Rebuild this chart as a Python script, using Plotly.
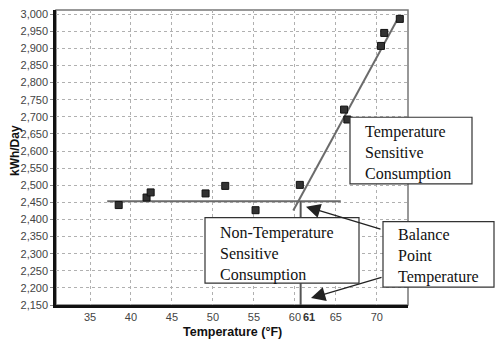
import plotly.graph_objects as go

# ---- data ----
temps = [38.5, 41.9, 42.4, 49.1, 51.5, 55.2, 60.6, 66.0, 66.4, 70.5, 70.9, 72.8]
kwh = [2442, 2464, 2479, 2476, 2498, 2427, 2501, 2721, 2692, 2907, 2945, 2986]

flat_x = [37.1, 65.6]
flat_y = [2453, 2453]
slope_x = [59.8, 72.7]
slope_y = [2426, 2993]
balance_temp = 60.7
balance_kwh = 2453
y_min = 2150

x_ticks = [35, 40, 45, 50, 55, 60, 65, 70]
y_ticks = list(range(2150, 3001, 50))
y_tick_text = [f"{v:,}" for v in y_ticks]

# ---- figure ----
fig = go.Figure()
fig.add_trace(go.Scatter(x=flat_x, y=flat_y, mode="lines",
                         line=dict(color="#6b6b6b", width=2), hoverinfo="skip"))
fig.add_trace(go.Scatter(x=slope_x, y=slope_y, mode="lines",
                         line=dict(color="#6b6b6b", width=2), hoverinfo="skip"))
fig.add_trace(go.Scatter(x=[balance_temp, balance_temp], y=[y_min, balance_kwh], mode="lines",
                         line=dict(color="#555555", width=2), hoverinfo="skip"))
fig.add_trace(go.Scatter(x=temps, y=kwh, mode="markers",
                         marker=dict(symbol="square", size=7, color="#333333",
                                     line=dict(color="#111111", width=1))))

W, H, L, T = 352, 297, 56, 8


def px(xp):
    return (xp - L) / W


def py(yp):
    return (T + H - yp) / H


shapes = [
    dict(type="rect", xref="paper", yref="paper", x0=0, x1=1, y0=0, y1=1,
         line=dict(color="#777777", width=1.5), layer="below"),
]
boxes = [
    (350, 472, 116, 183),
    (205, 359, 217, 283),
    (383, 494, 221, 287),
]
for x0, x1, y0, y1 in boxes:
    shapes.append(dict(type="rect", xref="paper", yref="paper",
                       x0=px(x0), x1=px(x1), y0=py(y1), y1=py(y0),
                       line=dict(color="#333333", width=1.2), fillcolor="white",
                       layer="above"))

annotations = []
box_texts = [
    (363, 152, "Temperature<br>Sensitive<br>Consumption"),
    (218, 253.5, "Non-Temperature<br>Sensitive<br>Consumption"),
    (396, 256, "Balance<br>Point<br>Temperature"),
]
for xl, yc, t in box_texts:
    annotations.append(dict(text=t, xref="paper", yref="paper", x=px(xl), y=py(yc),
                            xanchor="left", yanchor="middle", align="left", showarrow=False,
                            font=dict(family="Liberation Serif", size=16, color="#111111")))

for head, tail in [((306, 206), (382, 229)), ((311, 298), (383, 277))]:
    annotations.append(dict(text="", xref="paper", yref="paper", x=px(head[0]), y=py(head[1]),
                            ax=tail[0] - head[0], ay=tail[1] - head[1],
                            axref="pixel", ayref="pixel",
                            showarrow=True, arrowhead=2, arrowsize=2.2, arrowwidth=1.3,
                            arrowcolor="#222222"))

annotations.append(dict(text="<b>61</b>", xref="x", yref="paper", x=balance_temp, y=py(317),
                        xshift=8, showarrow=False, yanchor="middle",
                        font=dict(family="Liberation Sans", size=11, color="#333333")))
annotations.append(dict(text="<b>Temperature (°F)</b>", xref="paper", yref="paper",
                        x=0.5, y=py(332), showarrow=False, yanchor="middle",
                        font=dict(family="Liberation Sans", size=12.5, color="#111111")))
annotations.append(dict(text="<b>kWh/Day</b>", xref="paper", yref="paper", textangle=-90,
                        x=px(15), y=py(150), showarrow=False, xanchor="center", yanchor="middle",
                        font=dict(family="Liberation Sans", size=12, color="#111111")))

fig.update_layout(
    width=498, height=343,
    margin=dict(l=L, r=498 - L - W, t=T, b=343 - T - H),
    paper_bgcolor="white", plot_bgcolor="white",
    showlegend=False,
    shapes=shapes, annotations=annotations,
    font=dict(family="Liberation Sans", size=11, color="#444444"),
)
fig.update_xaxes(range=[30.85, 73.8], tickvals=x_ticks, showgrid=True,
                 gridcolor="#b0b0b0", griddash="3px,3px", gridwidth=1,
                 showline=True, linecolor="#111111", linewidth=2.5,
                 ticks="", zeroline=False, tickfont=dict(size=11, color="#444444"))
fig.update_yaxes(range=[2150, 3012], tickvals=y_ticks, ticktext=y_tick_text, showgrid=True,
                 gridcolor="#b0b0b0", griddash="3px,3px", gridwidth=1,
                 showline=True, linecolor="#111111", linewidth=2.5,
                 ticks="outside", ticklen=3, tickcolor="#888888",
                 zeroline=False, tickfont=dict(size=11, color="#444444"))

fig.write_html("out.html")
